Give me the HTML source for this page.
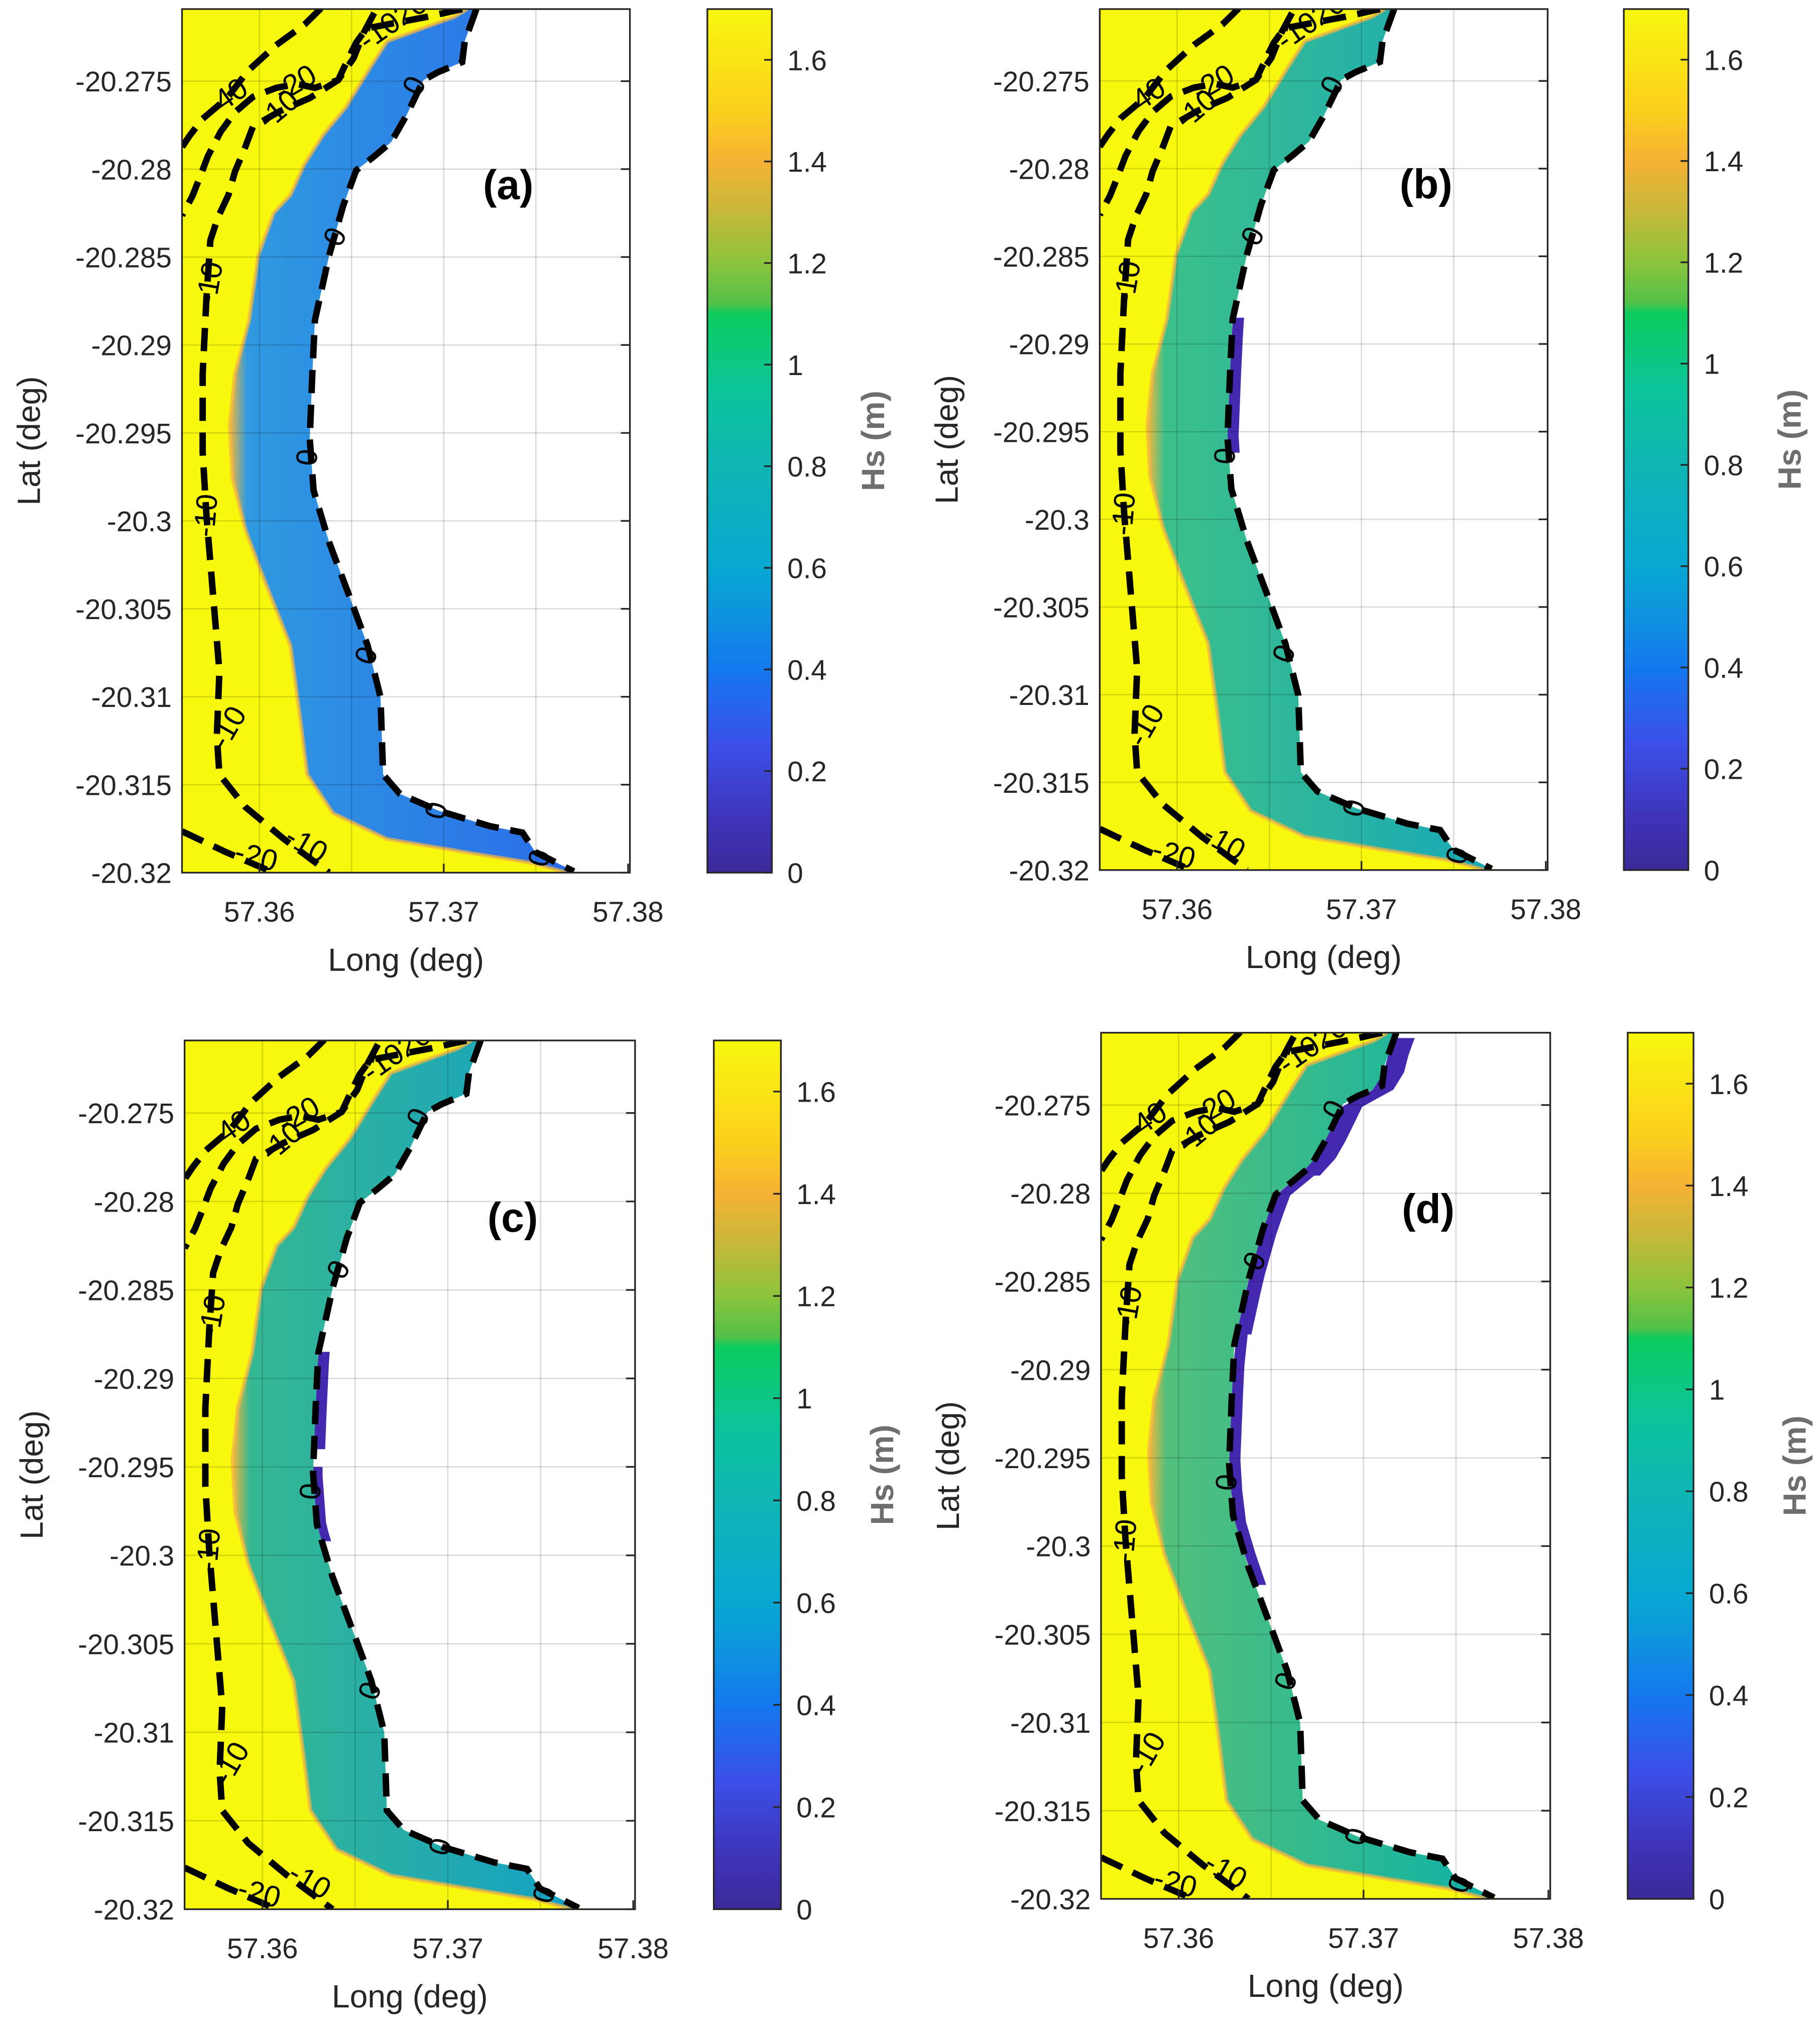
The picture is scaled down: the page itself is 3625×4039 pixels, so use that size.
<!DOCTYPE html>
<html><head><meta charset="utf-8"><style>
html,body{margin:0;padding:0;background:#fff;}
svg{display:block;font-family:"Liberation Sans",Arial,sans-serif;}
</style></head><body>
<svg id="fig" width="3625" height="4039" viewBox="0 0 1410 1571" xmlns="http://www.w3.org/2000/svg">
<defs>
<linearGradient id="cbgrad" x1="0" y1="1" x2="0" y2="0"></linearGradient>
</defs>
</svg>
<script>
// ---- data ----
const lonTicks = [57.36, 57.37, 57.38];
const gridLon = [57.36, 57.365, 57.37, 57.375];
const latTicks = [-20.275, -20.28, -20.285, -20.29, -20.295, -20.3, -20.305, -20.31, -20.315, -20.32];
const latTickLabels = ["-20.275","-20.28","-20.285","-20.29","-20.295","-20.3","-20.305","-20.31","-20.315","-20.32"];
const cbTicks = [0, 0.2, 0.4, 0.6, 0.8, 1, 1.2, 1.4, 1.6];
const cbTickLabels = ["0","0.2","0.4","0.6","0.8","1","1.2","1.4","1.6"];
const cbStopVals = [0, 0.1, 0.25, 0.4, 0.5, 0.6, 0.8, 0.95, 1.1, 1.12, 1.2, 1.3, 1.4, 1.5, 1.7];
const cbStopCols = ["#3a2a98","#3f33b8","#3b4fe8","#1478ef","#0f92df","#07a8d2","#0fb6b4","#0cc49a","#0ccc5e","#52c048","#8cc43c","#c6b83a","#f6b234","#fbd01c","#f8f80e"];
const coastLon = [57.37177,57.37114,57.37100,57.36967,57.36890,57.36799,57.36715,57.36623,57.36525,57.36455,57.36378,57.36301,57.36287,57.36273,57.36294,57.36378,57.36483,57.36587,57.36657,57.36671,57.36762,57.36972,57.37252,57.37427,57.37497,57.37706];
const coastLat = [-20.27090,-20.27273,-20.27391,-20.27450,-20.27494,-20.27692,-20.27846,-20.27927,-20.28007,-20.28206,-20.28492,-20.28859,-20.29166,-20.29533,-20.29827,-20.30121,-20.30414,-20.30708,-20.31002,-20.31442,-20.31552,-20.31648,-20.31736,-20.31772,-20.31883,-20.31993];
const edgeLon = [57.37128,57.37058,57.36693,57.36602,57.36469,57.36343,57.36245,57.36168,57.36077,57.35993,57.35944,57.35867,57.35839,57.35853,57.35923,57.36028,57.36168,57.36224,57.36259,57.36399,57.36692,57.37112,57.37462,57.37671];
const edgeLat = [-20.27090,-20.27134,-20.27273,-20.27420,-20.27648,-20.27809,-20.27971,-20.28147,-20.28250,-20.28492,-20.28859,-20.29166,-20.29460,-20.29754,-20.30047,-20.30341,-20.30708,-20.31148,-20.31442,-20.31662,-20.31809,-20.31883,-20.31942,-20.32000];
const c10Lon = [57.36623,57.36567,57.36511,57.36427,57.36273,57.36112,57.35965,57.35923,57.35867,57.35832,57.35776,57.35734,57.35713,57.35692,57.35692,57.35713,57.35748,57.35783,57.35769,57.35783,57.35923,57.36133,57.36378];
const c10Lat = [-20.27112,-20.27222,-20.27369,-20.27494,-20.27596,-20.27670,-20.27758,-20.27875,-20.28015,-20.28147,-20.28272,-20.28404,-20.28726,-20.29166,-20.29607,-20.29974,-20.30414,-20.30855,-20.31222,-20.31442,-20.31626,-20.31809,-20.32000];
const c20Lon = [57.37100,57.36911,57.36581,57.36525,57.36490,57.36427,57.36301,57.36203,57.36091,57.35965,57.35867,57.35790,57.35720,57.35678,57.35636,57.35580];
const c20Lat = [-20.27090,-20.27134,-20.27200,-20.27281,-20.27354,-20.27494,-20.27538,-20.27516,-20.27538,-20.27589,-20.27677,-20.27787,-20.27927,-20.28044,-20.28154,-20.28264];
const c40Lon = [57.36334,57.36245,57.36091,57.35937,57.35825,57.35692,57.35622,57.35580];
const c40Lat = [-20.27086,-20.27178,-20.27295,-20.27442,-20.27596,-20.27714,-20.27809,-20.27875];
const c20bLon = [57.35580,57.35818,57.36077];
const c20bLat = [-20.31765,-20.31883,-20.32000];
const panelLabels = ["(a)","(b)","(c)","(d)"];
const bandSea = ["#2f9ae0","#3cc08a","#35b892","#52c07c"];
const bandCoast = ["#2a6cea","#18a8b8","#14a0c6","#0eb2a6"];
const patchesB = [[-20.2885,-20.2962,0.0006]];
const patchesC = [[-20.2885,-20.2940,0.0006],[-20.2950,-20.2992,0.0005]];
const patchesD = [[-20.2712,-20.2790,0.0011],[-20.2790,-20.2880,0.0008],[-20.2880,-20.3022,0.0006]];
const panelPatches = [[], patchesB, patchesC, patchesD];

// ---- layout ----
const panels = [
 {ax:[141,7,488,676], cb:[548,7,598,676]},
 {ax:[852,7,1199,674], cb:[1258,7,1308,674]},
 {ax:[143,806,492,1479], cb:[553,806,605,1479]},
 {ax:[853,800,1201,1471], cb:[1261,800,1312,1471]}
];
const lonMin=57.3558, lonMax=57.3801, latMax=-20.2709, latMin=-20.3200, cbMax=1.7;
const NS="http://www.w3.org/2000/svg";
const svg=document.getElementById('fig');
function mk(tag,attrs,parent){const e=document.createElementNS(NS,tag);for(const k in attrs)e.setAttribute(k,attrs[k]);(parent||svg).appendChild(e);return e;}

const grad=document.getElementById('cbgrad');
cbStopVals.forEach((v,i)=>{mk('stop',{offset:(v/cbMax*100)+'%','stop-color':cbStopCols[i]},grad);});

function interpCoast(lat){
 for(let i=0;i<coastLat.length-1;i++){
  const a=coastLat[i],b=coastLat[i+1];
  if(lat<=a&&lat>=b){const t=(a-lat)/(a-b);return coastLon[i]+t*(coastLon[i+1]-coastLon[i]);}
 }
 return coastLon[coastLon.length-1];
}

panels.forEach((p,pi)=>{
 const [x0,y0,x1,y1]=p.ax;
 const X=lon=>x0+(lon-lonMin)/(lonMax-lonMin)*(x1-x0);
 const Y=lat=>y0+(latMax-lat)/(latMax-latMin)*(y1-y0);
 const g=mk('g',{});
 
 
 const clipId='clip'+pi;
 const cp=mk('clipPath',{id:clipId},g);mk('rect',{x:x0,y:y0,width:x1-x0,height:y1-y0},cp);
 const pl=mk('g',{'clip-path':'url(#'+clipId+')'},g);
 const sea=mk('rect',{x:x0,y:y0,width:x1-x0,height:y1-y0,fill:'#f8f80e'},pl);
 
 
 let pts=coastLon.map((l,i)=>X(l)+','+Y(coastLat[i]));
 pts.push((x1+5)+','+(y1+5));pts.push((x1+5)+','+(y0-5));pts.push(X(coastLon[0])+','+(y0-5));
 const land=mk('polygon',{points:pts.join(' '),fill:'#ffffff'},pl);
 
 
 const gid='band'+pi;
 const lg=mk('linearGradient',{id:gid,x1:'0',y1:'0',x2:'1',y2:'0'},g);
 mk('stop',{offset:'0%','stop-color':'#f4b83a'},lg);
 mk('stop',{offset:'5%','stop-color':bandSea[pi]},lg);
 mk('stop',{offset:'100%','stop-color':bandCoast[pi]},lg);
 let bp=edgeLon.map((l,i)=>X(l)+','+Y(edgeLat[i]));
 for(let i=coastLon.length-1;i>=0;i--)bp.push(X(coastLon[i])+','+Y(coastLat[i]));
 const band=mk('polygon',{points:bp.join(' '),fill:'url(#'+gid+')'},pl);
 
 
 mk('polyline',{points:edgeLon.map((l,i)=>X(l)+','+Y(edgeLat[i])).join(' '),fill:'none',stroke:'#f2b444','stroke-width':'3','stroke-opacity':'0.7'},pl);
 panelPatches[pi].forEach(pt=>{
  const [la,lb,w]=pt;const a=[],b=[];
  for(let k=0;k<=8;k++){const lat=la+(lb-la)*k/8;const c=interpCoast(lat);a.push(X(c)+','+Y(lat));b.unshift(X(c+w)+','+Y(lat));}
  const pg=mk('polygon',{points:a.concat(b).join(' '),fill:'#4428b0'},pl);
  
  
 });
 gridLon.forEach(v=>{mk('line',{x1:X(v),x2:X(v),y1:y0,y2:y1,stroke:'#000','stroke-opacity':'0.15','stroke-width':'1'},pl);});
 latTicks.forEach(v=>{mk('line',{x1:x0,x2:x1,y1:Y(v),y2:Y(v),stroke:'#000','stroke-opacity':'0.15','stroke-width':'1'},pl);});
 const cont=(lo,la,name)=>{const e=mk('polyline',{points:lo.map((l,i)=>X(l)+','+Y(la[i])).join(' '),fill:'none',stroke:'#000','stroke-width':'5','stroke-dasharray':'18 9'},pl);};
 cont(coastLon,coastLat,'contour-0');
 cont(c10Lon,c10Lat,'contour-minus10');
 cont(c20Lon,c20Lat,'contour-minus20');
 cont(c40Lon,c40Lat,'contour-minus40');
 cont(c20bLon,c20bLat,'contour-minus20-south');
 const lab=(t,lon,lat,rot)=>{const e=mk('text',{x:X(lon),y:Y(lat),'font-size':'23','text-anchor':'middle','dominant-baseline':'middle',transform:'rotate('+rot+' '+X(lon)+' '+Y(lat)+')'},pl);e.textContent=t;};
 lab('0',57.3685,-20.2753,-65);lab('0',57.3642,-20.2839,-65);lab('0',57.3627,-20.2964,-85);lab('0',57.3659,-20.3077,-70);lab('0',57.3697,-20.3165,-75);lab('0',57.3753,-20.3192,-75);
 lab('-10',57.3574,-20.2865,-80);lab('-10',57.3572,-20.2997,-85);lab('-10',57.3584,-20.3118,-60);lab('-10',57.3625,-20.3185,30);
 lab('-40',57.3583,-20.2760,-35);lab('-20',57.3620,-20.2752,-30);lab('-10',57.3611,-20.2767,-40);lab('-20',57.3598,-20.3192,15);lab('-1020',57.3673,-20.2717,-35);
 mk('rect',{x:x0,y:y0,width:x1-x0,height:y1-y0,fill:'none',stroke:'#262626','stroke-width':'1.3'},g);
 latTicks.forEach((v,i)=>{mk('line',{x1:x1,x2:x1-7,y1:Y(v),y2:Y(v),stroke:'#262626','stroke-width':'1.3'},g);
  const t=mk('text',{x:x0-8,y:Y(v)+8,'font-size':'22','text-anchor':'end',fill:'#262626'},g);t.textContent=latTickLabels[i];});
 lonTicks.forEach(v=>{mk('line',{x1:X(v),x2:X(v),y1:y1,y2:y1-7,stroke:'#262626','stroke-width':'1.3'},g);
  const t=mk('text',{x:X(v),y:y1+38,'font-size':'22','text-anchor':'middle',fill:'#262626'},g);t.textContent=v.toFixed(2);});
 const xt=mk('text',{x:(x0+x1)/2,y:y1+76,'font-size':'25','text-anchor':'middle',fill:'#262626'},g);xt.textContent='Long (deg)';
 
 const yc=(y0+y1)/2;const yx=x0-118;const yt=mk('text',{x:yx,y:yc+8,'font-size':'25','text-anchor':'middle',fill:'#262626',transform:'rotate(-90 '+yx+' '+yc+')'},g);
 yt.textContent='Lat (deg)';
 
 const pt=mk('text',{x:X(57.3735),y:Y(-20.2817),'font-size':'32','font-weight':'bold','text-anchor':'middle',fill:'#000'},g);pt.textContent=panelLabels[pi];
 
 const [c0,cy0,c1,cy1]=p.cb;const CY=v=>cy1-v/cbMax*(cy1-cy0);
 const cb=mk('rect',{x:c0,y:cy0,width:c1-c0,height:cy1-cy0,fill:'url(#cbgrad)',stroke:'#262626','stroke-width':'1.3'},g);
 
 cbTicks.forEach((v,i)=>{mk('line',{x1:c1,x2:c1-6,y1:CY(v),y2:CY(v),stroke:'#262626','stroke-width':'1.3'},g);
  const t=mk('text',{x:c1+12,y:CY(v)+8,'font-size':'22',fill:'#262626'},g);t.textContent=cbTickLabels[i];});
 const cx=c1+87,ccy=(cy0+cy1)/2;const ht=mk('text',{x:cx,y:ccy,'font-size':'25','font-weight':'bold','text-anchor':'middle',fill:'#6e6e6e',transform:'rotate(-90 '+cx+' '+ccy+')'},g);ht.textContent='Hs (m)';
 
});
</script>
</body></html>
